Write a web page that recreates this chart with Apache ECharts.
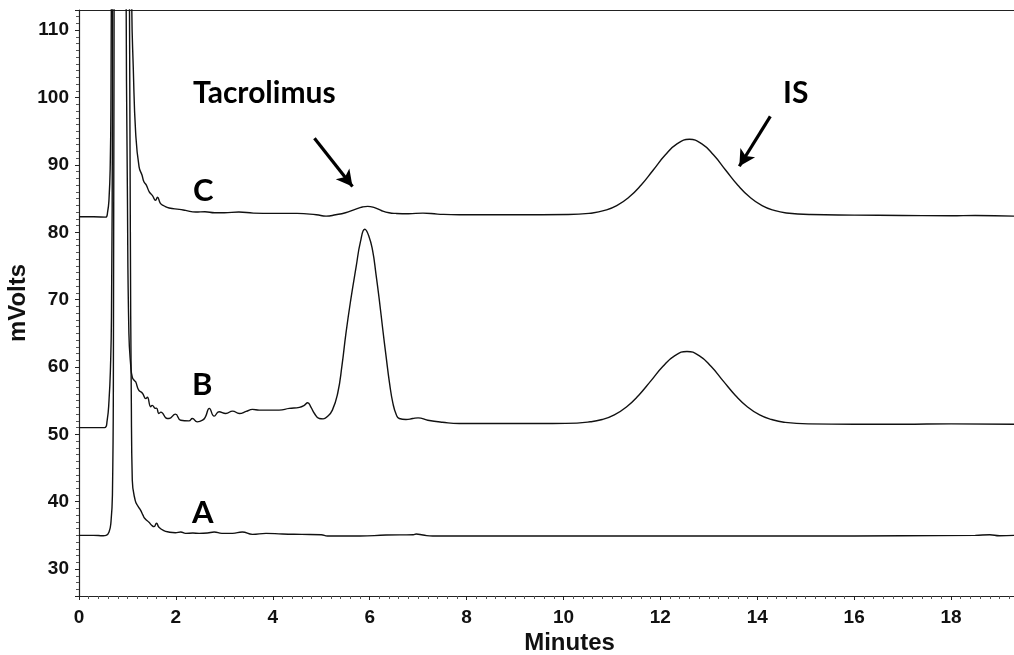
<!DOCTYPE html>
<html>
<head>
<meta charset="utf-8">
<script src="https://cdn.jsdelivr.net/npm/echarts@6/dist/echarts.min.js"></script>
<style>
html,body{margin:0;padding:0;background:#fff;}
#chart{width:1014px;height:655px;}
</style>
</head>
<body>
<div id="chart"></div>
<script>
// Trace A (blank): [minutes, mVolts]
const traceA = [
  [0, 35.0], [0.3, 35.0], [0.5, 34.95], [0.56, 35.0], [0.62, 35.5], [0.66, 37.0], [0.69, 41],
  [0.71, 60], [0.73, 150], [0.78, 400], [0.88, 600], [0.98, 400], [1.03, 150], [1.06, 80],
  [1.08, 55], [1.1, 43.2], [1.16, 40.2], [1.22, 39.3], [1.27, 38.75], [1.32, 38.0], [1.36, 37.5],
  [1.45, 36.9], [1.5, 36.5], [1.55, 36.3], [1.6, 36.8], [1.65, 36.2], [1.75, 35.7], [1.85, 35.5],
  [1.99, 35.4], [2.1, 35.5], [2.2, 35.3], [2.35, 35.35], [2.48, 35.3], [2.65, 35.35], [2.79, 35.5],
  [2.95, 35.3], [3.17, 35.3], [3.37, 35.5], [3.58, 35.15], [3.86, 35.3], [4.2, 35.2], [4.6, 35.15],
  [5.0, 35.1], [5.13, 34.9], [5.8, 34.9], [6.34, 35.05], [6.9, 35.1], [6.96, 35.2], [7.1, 35.05],
  [7.3, 34.9], [9, 34.9], [12, 34.9], [15, 34.9], [17, 34.95], [18.5, 35.0], [18.8, 35.1],
  [19.0, 34.95], [19.3, 35.0]
];
// Trace B (spiked sample)
const traceB = [
  [0, 51.0], [0.3, 51.0], [0.53, 51.0], [0.58, 52.0], [0.62, 55.1], [0.65, 60], [0.67, 67.4],
  [0.69, 100], [0.72, 300], [0.82, 600], [0.92, 300], [0.97, 120], [1.0, 85], [1.03, 65],
  [1.07, 60], [1.10, 58.5], [1.14, 58.0], [1.17, 57.8], [1.23, 56.6], [1.31, 56.1], [1.38, 55.3],
  [1.41, 55.5], [1.48, 54.1], [1.51, 54.3], [1.58, 53.85], [1.6, 53.9], [1.65, 53.1], [1.69, 53.3],
  [1.82, 52.35], [1.86, 52.35], [1.99, 53.0], [2.1, 52.1], [2.27, 52.0], [2.34, 52.35], [2.44, 51.85],
  [2.55, 52.1], [2.61, 52.6], [2.69, 53.85], [2.79, 52.7], [2.89, 53.35], [3.03, 53.1], [3.17, 53.45],
  [3.31, 53.1], [3.45, 53.4], [3.58, 53.7], [3.72, 53.6], [4.13, 53.6], [4.34, 53.85], [4.55, 54.0],
  [4.65, 54.3], [4.72, 54.7], [4.79, 54.0], [4.86, 53.1], [4.96, 52.35], [5.04, 52.3], [5.12, 52.6],
  [5.23, 53.6], [5.34, 56.1], [5.43, 60.3], [5.51, 65.0], [5.61, 70.0], [5.72, 74.85], [5.81, 78.6],
  [5.9, 80.45], [5.98, 79.5], [6.06, 77.3], [6.13, 73.8], [6.2, 69.9], [6.27, 65.6], [6.34, 61.5],
  [6.41, 57.6], [6.48, 54.6], [6.55, 52.9], [6.61, 52.35], [6.75, 52.2], [6.89, 52.35], [7.0, 52.45],
  [7.2, 52.1], [7.5, 51.8], [7.85, 51.6], [8.5, 51.6], [9.5, 51.6], [10.05, 51.63], [10.55, 51.86],
  [10.8, 52.2], [11.05, 52.9], [11.3, 54.07], [11.55, 55.78], [11.8, 57.9], [12.05, 60.07],
  [12.3, 61.69], [12.55, 62.3], [12.8, 61.69], [13.05, 60.07], [13.3, 57.9], [13.55, 55.78],
  [13.8, 54.07], [14.05, 52.9], [14.3, 52.2], [14.55, 51.8], [15.05, 51.55], [16, 51.5], [17, 51.5],
  [18, 51.55], [19.3, 51.5]
];
// Trace C (patient sample)
const traceC = [
  [0, 82.3], [0.3, 82.3], [0.55, 82.25], [0.59, 83.0], [0.62, 85.0], [0.645, 90], [0.66, 100],
  [0.68, 150], [0.74, 400], [0.85, 600], [0.96, 400], [1.02, 250], [1.06, 150], [1.09, 113],
  [1.12, 104.5], [1.17, 94.7], [1.24, 89.7], [1.30, 88.5], [1.34, 87.5], [1.39, 87.0], [1.45, 86.0],
  [1.52, 85.4], [1.58, 84.75], [1.62, 85.2], [1.68, 84.3], [1.76, 83.9], [1.86, 83.6], [2.07, 83.4],
  [2.2, 83.25], [2.41, 83.0], [2.6, 83.05], [2.8, 82.9], [3.0, 82.9], [3.3, 83.0], [3.6, 82.85],
  [4.0, 82.8], [4.5, 82.8], [4.9, 82.6], [5.1, 82.4], [5.3, 82.6], [5.5, 82.9], [5.7, 83.4],
  [5.85, 83.75], [5.96, 83.85], [6.1, 83.65], [6.25, 83.2], [6.4, 82.9], [6.54, 82.8], [6.8, 82.75],
  [7.1, 82.85], [7.4, 82.7], [7.85, 82.6], [9, 82.6], [10.1, 82.63], [10.6, 82.87], [10.85, 83.24],
  [11.1, 83.96], [11.35, 85.19], [11.6, 86.98], [11.85, 89.21], [12.1, 91.46], [12.35, 93.16],
  [12.6, 93.8], [12.85, 93.16], [13.1, 91.46], [13.35, 89.21], [13.6, 86.98], [13.85, 85.19],
  [14.1, 83.96], [14.35, 83.24], [14.6, 82.87], [15.1, 82.63], [16, 82.55], [17, 82.5], [18, 82.45],
  [18.5, 82.5], [19.3, 82.4]
];
// Annotation arrows (data coordinates): [start, end]
const arrowTacrolimus = [[4.86, 93.95], [5.645, 86.8]];
const arrowIS = [[14.27, 97.2], [13.63, 89.8]];

const xMin = 0, xMax = 19.3, xInterval = 2;
const yMin = 26, yMax = 113;

const chart = echarts.init(document.getElementById('chart'), null, {renderer: 'canvas'});
const FONT = '"Liberation Sans", Arial, sans-serif';
const LABELFONT = 'Lato, "Open Sans", sans-serif';
const ink = '#111';

function trace(name, data, extra) {
  return Object.assign({
    name: name, type: 'line', data: data, showSymbol: false, symbol: 'none',
    smooth: 0.5, clip: true, animation: false,
    lineStyle: {color: ink, width: 1.4}
  }, extra || {});
}

const arrowLine = {
  silent: true, animation: false,
  symbol: ['none', 'arrow'], symbolSize: [13, 16],
  lineStyle: {color: '#000', width: 3.2, type: 'solid'},
  label: {show: false},
  data: [
    [{coord: arrowTacrolimus[0]}, {coord: arrowTacrolimus[1]}],
    [{coord: arrowIS[0]}, {coord: arrowIS[1]}]
  ]
};

chart.setOption({
  animation: false,
  backgroundColor: '#fff',
  grid: {left: 79, right: 0, top: 10, bottom: 59, containLabel: false, outerBoundsMode: 'none'},
  xAxis: [{
    type: 'value', min: xMin, max: xMax, interval: xInterval,
    name: 'Minutes', nameLocation: 'middle', nameGap: 35, nameMoveOverlap: false,
    nameTextStyle: {fontFamily: FONT, fontSize: 24, fontWeight: 'bold', color: ink, padding: [0, 0, 0, 46]},
    axisLine: {show: true, onZero: false, lineStyle: {color: '#222', width: 1.2}},
    axisTick: {show: true, length: 4, lineStyle: {color: '#222'}},
    minorTick: {show: true, splitNumber: 10, length: 3, lineStyle: {color: '#555'}},
    splitLine: {show: false},
    axisLabel: {fontFamily: FONT, fontSize: 19, fontWeight: 'bold', color: ink, margin: 12, showMaxLabel: false}
  }, {
    type: 'value', position: 'top', min: xMin, max: xMax,
    axisLine: {show: true, onZero: false, lineStyle: {color: '#222', width: 1.2}},
    axisTick: {show: false}, axisLabel: {show: false}, splitLine: {show: false}
  }],
  yAxis: {
    type: 'value', min: yMin, max: yMax, splitNumber: 9, minInterval: 10, maxInterval: 10,
    name: 'mVolts', nameLocation: 'middle', nameGap: 49, nameMoveOverlap: false,
    nameTextStyle: {fontFamily: FONT, fontSize: 24, fontWeight: 'bold', color: ink},
    axisLine: {show: true, onZero: false, lineStyle: {color: '#222', width: 1.2}},
    axisTick: {show: true, length: 4, lineStyle: {color: '#222'}},
    minorTick: {show: true, splitNumber: 10, length: 3, lineStyle: {color: '#555'}},
    splitLine: {show: false},
    axisLabel: {fontFamily: FONT, fontSize: 19, fontWeight: 'bold', color: ink, margin: 10,
                showMinLabel: false, showMaxLabel: false}
  },
  series: [
    trace('A', traceA),
    trace('B', traceB),
    trace('C', traceC, {markLine: arrowLine})
  ],
  graphic: [
    {type: 'text', left: 193, top: 78, style: {text: 'Tacrolimus', font: 'bold 30px ' + LABELFONT, fill: '#000'}},
    {type: 'text', left: 783, top: 78, style: {text: 'IS', font: 'bold 30px ' + LABELFONT, fill: '#000'}},
    {type: 'text', left: 193, top: 175, style: {text: 'C', font: 'bold 31px ' + LABELFONT, fill: '#000'}},
    {type: 'text', left: 192, top: 369, style: {text: 'B', font: 'bold 31px ' + LABELFONT, fill: '#000'}},
    {type: 'text', left: 192, top: 497, style: {text: 'A', font: 'bold 31px ' + LABELFONT, fill: '#000'}}
  ]
});
</script>
</body>
</html>
